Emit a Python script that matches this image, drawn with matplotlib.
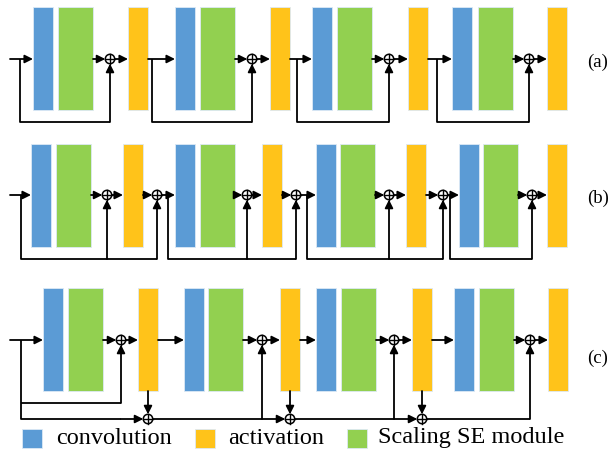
import matplotlib.pyplot as plt
from matplotlib.patches import Rectangle, Circle

BLUE = "#5B9BD5"
GREEN = "#92D050"
YELLOW = "#FFC31A"

# row (a): left edges of the blocks and x of the adders
conv_a = [33, 175, 312, 452]
se_a = [58, 200, 337, 478]
act_a = [128, 270, 408, 547]
add_a = [110, 252, 389, 529]
skip_a = [20, 152, 297, 437]

# row (b)
conv_b = [31, 175, 316, 459]
se_b = [56, 200, 340, 483]
act_b = [123, 262, 406, 547]
add1_b = [107, 247, 389, 532]
add2_b = [157, 296, 443]
skip_b = [21, 168, 307, 450]

# row (c)
conv_c = [43, 184, 316, 454]
se_c = [68, 208, 341, 479]
act_c = [138, 280, 412, 548]
add_c = [121, 262, 394, 530]
add_low_c = [148, 290, 422]

row_labels = ["(a)", "(b)", "(c)"]
legend_names = ["convolution", "activation", "Scaling SE module"]

W_CONV, W_SE, W_ACT, H = 20, 35, 20, 103
R = 4.7

fig = plt.figure(figsize=(6.08, 4.54), dpi=100)
ax = fig.add_axes([0, 0, 1, 1])
ax.set_xlim(0, 608)
ax.set_ylim(454, 0)
ax.axis("off")


def block(x, top, w, color):
    ax.add_patch(Rectangle((x, top), w, H, fc=color, ec="#dde9f5", lw=0.6))


def arrow(x0, y0, x1, y1):
    ax.annotate("", xy=(x1, y1), xytext=(x0, y0),
                arrowprops=dict(arrowstyle="-|>", mutation_scale=12, lw=1.3,
                                color="black", shrinkA=0, shrinkB=0))


def line(xs, ys):
    ax.plot(xs, ys, color="black", lw=1.3, solid_capstyle="butt")


def adder(x, y):
    ax.add_patch(Circle((x, y), R, fc="white", ec="black", lw=1.1, zorder=5))
    ax.plot([x - R, x + R], [y, y], color="black", lw=1.0, zorder=6)
    ax.plot([x, x], [y - R, y + R], color="black", lw=1.0, zorder=6)


def draw_blocks(conv, se, act, top):
    for c, s, a in zip(conv, se, act):
        block(c, top, W_CONV, BLUE)
        block(s, top, W_SE, GREEN)
        block(a, top, W_ACT, YELLOW)


# ---- (a)
y, top, sy = 59, 7, 122
draw_blocks(conv_a, se_a, act_a, top)
arrow(10, y, conv_a[0], y)
for i in range(4):
    arrow(se_a[i] + W_SE, y, add_a[i] - R, y)
    arrow(add_a[i] + R, y, act_a[i], y)
    if i < 3:
        arrow(act_a[i] + W_ACT, y, conv_a[i + 1], y)
    line([skip_a[i], skip_a[i], add_a[i]], [y, sy, sy])
    arrow(add_a[i], sy, add_a[i], y + R)
    adder(add_a[i], y)

# ---- (b)
y, top, sy = 195, 144, 259
draw_blocks(conv_b, se_b, act_b, top)
arrow(10, y, conv_b[0], y)
for i in range(4):
    arrow(se_b[i] + W_SE, y, add1_b[i] - R, y)
    arrow(add1_b[i] + R, y, act_b[i], y)
    adder(add1_b[i], y)
    arrow(add1_b[i], sy, add1_b[i], y + R)
    if i < 3:
        arrow(act_b[i] + W_ACT, y, add2_b[i] - R, y)
        arrow(add2_b[i] + R, y, conv_b[i + 1], y)
        arrow(add2_b[i], sy, add2_b[i], y + R)
        adder(add2_b[i], y)
        end = add2_b[i]
    else:
        end = add1_b[i]
    line([skip_b[i], skip_b[i], end], [y, sy, sy])

# ---- (c)
y, top, s1, s2, split = 340, 288, 403, 419, 21
draw_blocks(conv_c, se_c, act_c, top)
arrow(10, y, conv_c[0], y)
for i in range(4):
    arrow(se_c[i] + W_SE, y, add_c[i] - R, y)
    arrow(add_c[i] + R, y, act_c[i], y)
    if i < 3:
        arrow(act_c[i] + W_ACT, y, conv_c[i + 1], y)
    adder(add_c[i], y)
line([split, split, add_c[0]], [y, s2, s2])
line([split, add_c[0]], [s1, s1])
arrow(add_c[0], s1, add_c[0], y + R)
arrow(add_c[0], s2, add_low_c[0] - R, s2)
for j in range(3):
    arrow(act_c[j] + W_ACT / 2, top + H, add_low_c[j], s2 - R)
    adder(add_low_c[j], s2)
    if j < 2:
        arrow(add_low_c[j] + R, s2, add_low_c[j + 1] - R, s2)
    else:
        line([add_low_c[j] + R, add_c[j + 1]], [s2, s2])
    arrow(add_c[j + 1], s2, add_c[j + 1], y + R)

# row labels
for lab, ly in zip(row_labels, [62, 198, 358]):
    ax.text(587, ly, lab, fontsize=13.5, family="Liberation Serif",
            ha="left", va="center")

# legend
for name, col, sx, tx in zip(legend_names, [BLUE, YELLOW, GREEN],
                             [22, 195, 347], [56, 228, 378]):
    ax.add_patch(Rectangle((sx, 429), 20, 19, fc=col, ec="#dde9f5", lw=0.6))
    ax.text(tx, 438, name, fontsize=17.5, family="Liberation Serif",
            ha="left", va="center")

fig.savefig("out.png", dpi=100)
